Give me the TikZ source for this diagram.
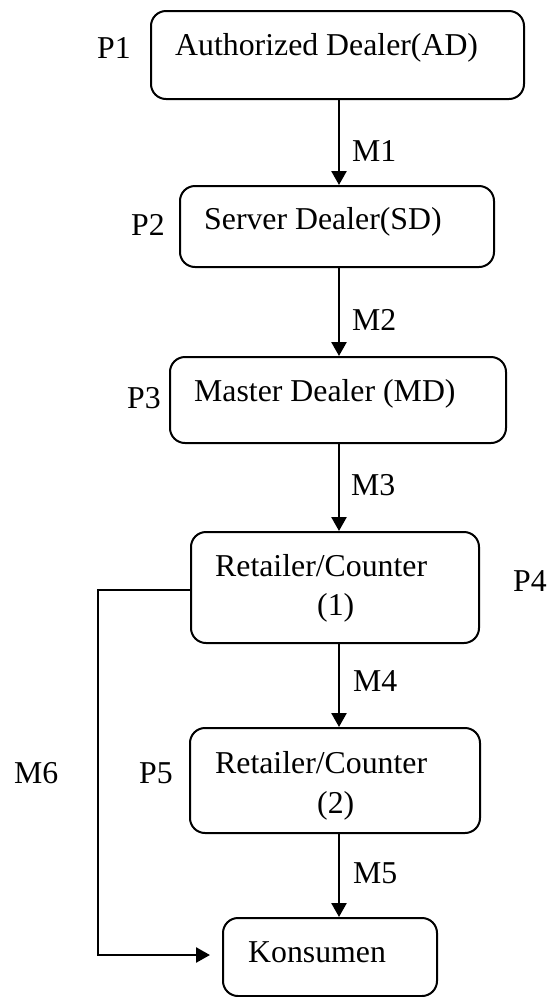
\documentclass[tikz,border=0pt]{standalone}
\usepackage{fontspec}
\setmainfont{Liberation Serif}
\usetikzlibrary{arrows.meta}
\tikzset{
  box/.style={draw, line width=2pt, rounded corners=15pt, inner sep=0pt},
  txt/.style={anchor=base west, inner sep=0pt, font=\fontsize{31.8}{38}\selectfont},
  arr/.style={line width=2.6pt, -{Triangle[length=14pt,width=15pt]}}
}
\begin{document}
\begin{tikzpicture}[x=1pt,y=-1pt]
\useasboundingbox (0,0) rectangle (549,997);
% boxes
\node[box, minimum width=373pt, minimum height=88pt] (b1) at (337.5,55) {};
\node[box, minimum width=314pt, minimum height=81pt] (b2) at (337,226.5) {};
\node[box, minimum width=336pt, minimum height=86pt] (b3) at (338,400) {};
\node[box, minimum width=288pt, minimum height=111pt] (b4) at (335,587.5) {};
\node[box, minimum width=290pt, minimum height=105pt] (b5) at (335,780.5) {};
\node[box, minimum width=214pt, minimum height=78pt] (b6) at (330,957) {};
% box texts
\node[txt] (t1) at (175,55) {Authorized Dealer(AD)};
\node[txt] (t2) at (204,229) {Server Dealer(SD)};
\node[txt] (t3) at (194,401) {Master Dealer (MD)};
\node[txt] (t4a) at (215,576) {Retailer/Counter};
\node[txt] (t4b) at (317,615) {(1)};
\node[txt] (t5a) at (215,773) {Retailer/Counter};
\node[txt] (t5b) at (317,813) {(2)};
\node[txt] (t6) at (248,962) {Konsumen};
% P labels
\node[txt] (p1) at (97,58) {P1};
\node[txt] (p2) at (131,235) {P2};
\node[txt] (p3) at (127,408) {P3};
\node[txt] (p4) at (513,591) {P4};
\node[txt] (p5) at (139,783) {P5};
% M labels
\node[txt] (m1) at (352,161) {M1};
\node[txt] (m2) at (352,330) {M2};
\node[txt] (m3) at (351,495) {M3};
\node[txt] (m4) at (353,691) {M4};
\node[txt] (m5) at (353,883) {M5};
\node[txt] (m6) at (14,783) {M6};
% connectors
\coordinate (ax) at (339,0);
\coordinate (lx) at (98,0);
\coordinate (m6end) at (210,955);
\draw[arr] (b1.south -| ax) -- (b2.north -| ax);
\draw[arr] (b2.south -| ax) -- (b3.north -| ax);
\draw[arr] (b3.south -| ax) -- (b4.north -| ax);
\draw[arr] (b4.south -| ax) -- (b5.north -| ax);
\draw[arr] (b5.south -| ax) -- (b6.north -| ax);
\draw[arr] ([yshift=-2.5pt]b4.west) -- ([yshift=-2.5pt]b4.west -| lx) |- (m6end);
\end{tikzpicture}
\end{document}
